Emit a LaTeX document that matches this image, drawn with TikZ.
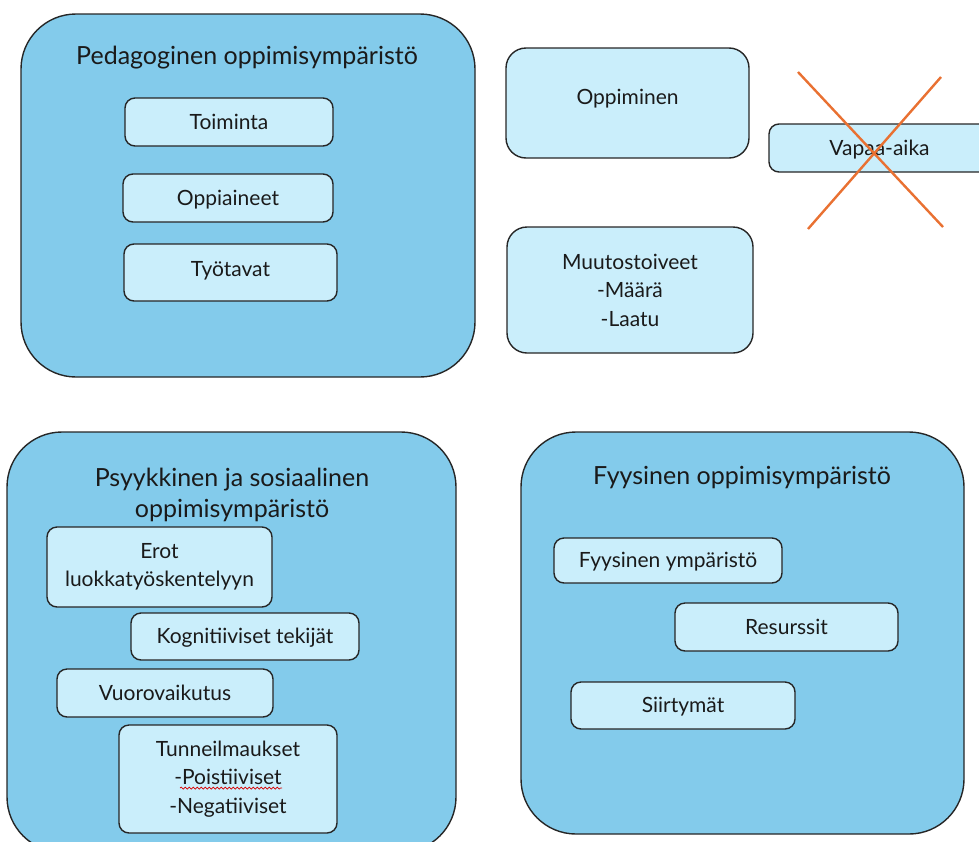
\documentclass[tikz,border=0pt]{standalone}
\usepackage{fontspec}
\setmainfont{Lato}
\usetikzlibrary{decorations.pathmorphing}
\definecolor{outerblue}{HTML}{83CBEB}
\definecolor{innerblue}{HTML}{CAEEFB}
\definecolor{crossorange}{HTML}{E97132}
\definecolor{textdark}{HTML}{1A1A1A}
\begin{document}
\begin{tikzpicture}[x=1pt,y=-1pt,
    outerbox/.style={draw=black!85,fill=outerblue,line width=1.4pt,rounded corners=55pt},
    titletext/.style={text=textdark,align=center,font=\fontsize{25}{31}\selectfont},
    innerbox/.style={draw=black!85,fill=innerblue,line width=1.4pt,rounded corners=10pt,
      text=textdark,align=center,inner sep=0pt,font=\fontsize{21}{28.5}\selectfont},
    oneline/.style={innerbox,text height=18pt,text depth=4pt},
    bigbox/.style={innerbox,rounded corners=20pt},
    crossline/.style={draw=crossorange,line width=2.4pt}]
  \useasboundingbox (0,0) rectangle (979,841);
  \clip (0,0) rectangle (979,841);
  % pedagoginen
  \node[outerbox,minimum width=454,minimum height=363] (ped) at (248,195.5) {};
  \node[titletext] (pedtitle) at (247,58) {Pedagoginen oppimisympäristö};
  \node[oneline,minimum width=208,minimum height=48] (toiminta) at (229,122) {Toiminta};
  \node[oneline,minimum width=210,minimum height=48] (oppiaineet) at (228,198) {Oppiaineet};
  \node[oneline,minimum width=213,minimum height=57,text depth=10pt] (tyotavat) at (230.5,272.5) {Työtavat};
  % oikea yläkulma
  \node[bigbox,minimum width=243,minimum height=110,text height=15pt,text depth=12pt] (oppiminen) at (627.5,103) {Oppiminen};
  \node[bigbox,minimum width=246,minimum height=126] (muutos) at (630,290)
    {Muutostoiveet\\-Määrä\\-Laatu};
  \node[oneline,minimum width=221,minimum height=48] (vapaa) at (879.5,148) {Vapaa-aika};
  \draw[crossline] (798,72) -- (943,227);
  \draw[crossline] (941,77) -- (808,229);
  % psyykkinen ja sosiaalinen
  \node[outerbox,minimum width=449,minimum height=420] (psy) at (231.5,642) {};
  \node[titletext] (psytitle) at (232,494.5) {Psyykkinen ja sosiaalinen\\oppimisympäristö};
  \node[innerbox,minimum width=225,minimum height=80] (erot) at (159.5,567)
    {Erot\\luokkatyöskentelyyn};
  \node[oneline,minimum width=228,minimum height=47] (kogn) at (245,636.5) {Kognitiiviset tekijät};
  \node[oneline,minimum width=216,minimum height=48] (vuoro) at (165,693) {Vuorovaikutus};
  \node[innerbox,minimum width=218,minimum height=108] (tunne) at (228,779)
    {Tunneilmaukset\\-Poistiiviset\\-Negatiiviset};
  \draw[red!85!black,line width=0.7pt,decorate,
    decoration={snake,amplitude=1pt,segment length=4pt}] (180,788) -- (282,788);
  % fyysinen
  \node[outerbox,minimum width=443,minimum height=402] (fyy) at (742.5,633) {};
  \node[titletext] (fyytitle) at (742,478) {Fyysinen oppimisympäristö};
  \node[oneline,minimum width=228,minimum height=45] (ymparisto) at (668,560.5) {Fyysinen ympäristö};
  \node[oneline,minimum width=223,minimum height=48] (resurssit) at (786.5,627) {Resurssit};
  \node[oneline,minimum width=224,minimum height=47] (siirtymat) at (683,705.5) {Siirtymät};
\end{tikzpicture}
\end{document}
